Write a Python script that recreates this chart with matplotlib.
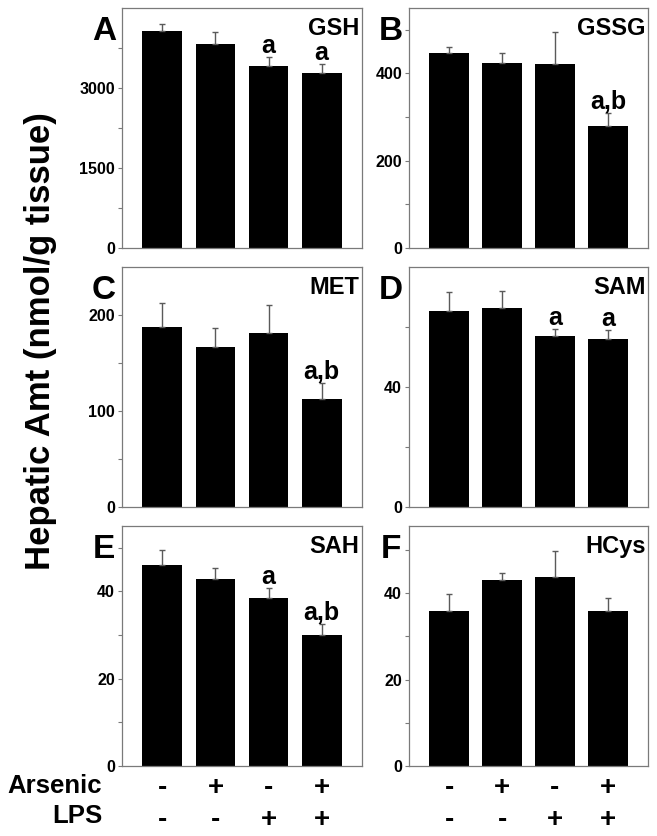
import matplotlib
matplotlib.use("Agg")
import matplotlib.pyplot as plt
from matplotlib.transforms import blended_transform_factory

plt.rcParams['font.family'] = ['Liberation Sans', 'DejaVu Sans']
plt.rcParams['font.weight'] = 'bold'

# ---- data ----
groups = ["Control", "Arsenic", "LPS", "Arsenic+LPS"]
arsenic_signs = ["-", "+", "-", "+"]
lps_signs = ["-", "-", "+", "+"]

panel_letters = ["A", "B", "C", "D", "E", "F"]
panel_titles = ["GSH", "GSSG", "MET", "SAM", "SAH", "HCys"]

gsh_mean = [4070, 3820, 3420, 3290]
gsh_err = [130, 230, 160, 155]
gssg_mean = [446, 423, 421, 280]
gssg_err = [14, 25, 73, 30]
met_mean = [188, 167, 181, 113]
met_err = [25, 19, 29, 16]
sam_mean = [65.3, 66.5, 57.1, 55.9]
sam_err = [6.4, 5.6, 2.1, 3.2]
sah_mean = [46.1, 42.8, 38.6, 30.1]
sah_err = [3.3, 2.6, 2.2, 2.4]
hcys_mean = [35.8, 43.0, 43.8, 35.8]
hcys_err = [3.9, 1.6, 6.0, 3.0]

sig_labels = [
    ["", "", "a", "a"],
    ["", "", "", "a,b"],
    ["", "", "", "a,b"],
    ["", "", "a", "a"],
    ["", "", "a", "a,b"],
    ["", "", "", ""],
]

means = [gsh_mean, gssg_mean, met_mean, sam_mean, sah_mean, hcys_mean]
errs = [gsh_err, gssg_err, met_err, sam_err, sah_err, hcys_err]
ylims = [4500, 550, 250, 80, 55, 55.5]
major_ticks = [[0, 1500, 3000], [0, 200, 400], [0, 100, 200], [0, 40], [0, 20, 40], [0, 20, 40]]
minor_ticks = [[750, 2250, 3750], [100, 300, 500], [50, 150], [20, 60], [10, 30, 50], [10, 30, 50]]

# ---- layout ----
W, H = 657, 836
fig = plt.figure(figsize=(W / 100, H / 100), dpi=100)
col_x = [122, 409]
col_w = [240, 239]
row_top = [8, 267, 526]
ax_h = 240

spine_col = "#7a7a7a"
err_col = "#5a5a5a"
x = list(range(len(groups)))

axes = []
for i in range(6):
    r, c = divmod(i, 2)
    ax = fig.add_axes([col_x[c] / W, 1 - (row_top[r] + ax_h) / H, col_w[c] / W, ax_h / H])
    axes.append(ax)
    ax.bar(x, means[i], width=0.75, color="black", zorder=2)
    ax.errorbar(x, means[i], yerr=[[0] * 4, errs[i]], fmt="none", ecolor=err_col,
                elinewidth=1.0, capsize=2.5, capthick=1.0, zorder=3)
    ax.set_xlim(-0.76, 3.76)
    ax.set_ylim(0, ylims[i])
    ax.set_xticks([])
    ax.set_yticks(major_ticks[i])
    ax.set_yticks(minor_ticks[i], minor=True)
    ax.tick_params(axis="y", which="both", direction="out", length=3, width=0.8,
                   color=spine_col, labelsize=11.5, pad=2)
    for lab in ax.get_yticklabels():
        lab.set_fontweight("bold")
    for s in ax.spines.values():
        s.set_color(spine_col)
        s.set_linewidth(0.9)
    # title inside top right
    ax.text(0.99, 0.962, panel_titles[i], transform=ax.transAxes, ha="right", va="top",
            fontsize=17, fontweight="bold")
    # panel letter
    ax.text(-0.075, 0.965, panel_letters[i], transform=ax.transAxes, ha="center", va="top",
            fontsize=24, fontweight="bold")
    # significance labels
    for j in range(4):
        if sig_labels[i][j]:
            ax.annotate(sig_labels[i][j], xy=(x[j], means[i][j] + errs[i][j]),
                        xytext=(0, 3), textcoords="offset points", ha="center",
                        va="baseline", fontsize=18, fontweight="bold", zorder=4)

# treatment rows under bottom panels
for ax in axes[4:]:
    tr = blended_transform_factory(ax.transData, ax.transAxes)
    for j in range(4):
        ax.text(x[j], -0.092, arsenic_signs[j], transform=tr, ha="center", va="center",
                fontsize=20, fontweight="bold")
        ax.text(x[j], -0.225, lps_signs[j], transform=tr, ha="center", va="center",
                fontsize=20, fontweight="bold")

fig.text(102 / W, 1 - 786 / H, "Arsenic", ha="right", va="center", fontsize=18.5, fontweight="bold")
fig.text(102 / W, 1 - 816 / H, "LPS", ha="right", va="center", fontsize=18.5, fontweight="bold")

fig.text(41 / W, 1 - 341 / H, "Hepatic Amt (nmol/g tissue)", rotation=90, ha="center",
         va="center", fontsize=25, fontweight="bold")

fig.savefig("out.png", dpi=100)
